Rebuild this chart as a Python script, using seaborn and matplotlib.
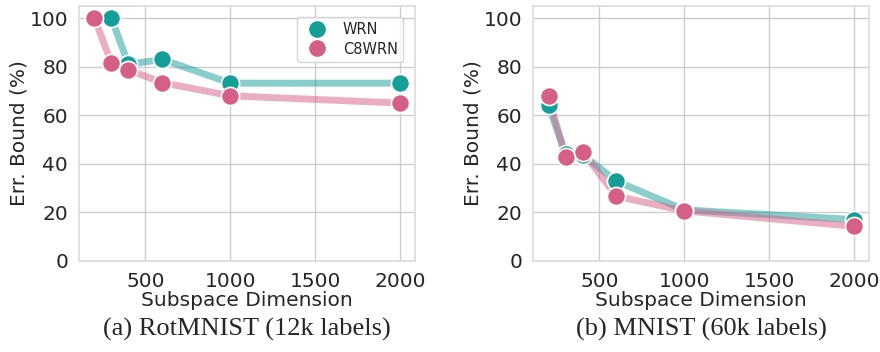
import numpy as np
import pandas as pd
import matplotlib
matplotlib.use("Agg")
import matplotlib.pyplot as plt
import seaborn as sns
from matplotlib.lines import Line2D

# RotMNIST (12k labels)
rot_dims_wrn = [300, 400, 600, 1000, 2000]
rot_wrn = [100.0, 81.0, 83.0, 73.2, 73.2]
rot_dims_c8 = [200, 300, 400, 600, 1000, 2000]
rot_c8 = [100.0, 81.5, 78.7, 73.4, 68.0, 65.0]

# MNIST (60k labels)
mn_dims = [200, 300, 400, 600, 1000, 2000]
mn_wrn = [64.0, 44.0, 43.8, 32.8, 21.0, 17.0]
mn_c8 = [67.8, 42.8, 45.0, 26.6, 20.6, 14.2]

MODELS = ["WRN", "C8WRN"]
COLORS = {"WRN": "#159e98", "C8WRN": "#d65f88"}
CAPTIONS = ["(a) RotMNIST (12k labels)", "(b) MNIST (60k labels)"]


def make_df(dims_a, vals_a, dims_b, vals_b):
    a = pd.DataFrame({"dim": dims_a, "err": vals_a, "model": "WRN"})
    b = pd.DataFrame({"dim": dims_b, "err": vals_b, "model": "C8WRN"})
    return pd.concat([a, b], ignore_index=True)


frames = [
    make_df(rot_dims_wrn, rot_wrn, rot_dims_c8, rot_c8),
    make_df(mn_dims, mn_wrn, mn_dims, mn_c8),
]

sns.set_theme(style="whitegrid")
fig = plt.figure(figsize=(8.8, 3.52), dpi=100)
axes = [
    fig.add_axes([0.090, 0.259, 0.382, 0.724]),
    fig.add_axes([0.606, 0.259, 0.382, 0.724]),
]

for i, (ax, df) in enumerate(zip(axes, frames)):
    for m in MODELS:
        sub = df[df.model == m]
        sns.lineplot(data=sub, x="dim", y="err", color=COLORS[m],
                     linewidth=5, alpha=0.5, ax=ax, legend=False)
    for m in MODELS:
        sub = df[df.model == m]
        sns.scatterplot(data=sub, x="dim", y="err", color=COLORS[m],
                        s=170, edgecolor="white", linewidth=1.2,
                        ax=ax, legend=False, zorder=3)
    ax.set_xlim(110, 2090)
    ax.set_ylim(0, 105)
    ax.set_yticks([0, 20, 40, 60, 80, 100])
    ax.set_xticks([500, 1000, 1500, 2000])
    ax.tick_params(labelsize=14.5, pad=2)
    ax.set_xlabel("Subspace Dimension", fontsize=14.5, labelpad=0)
    ax.set_ylabel("Err. Bound (%)", fontsize=14.5, labelpad=1)
    for s in ax.spines.values():
        s.set_color("#dddddd")
    ax.text(0.5, -0.27, CAPTIONS[i], transform=ax.transAxes,
            ha="center", va="center", fontsize=19,
            family="Liberation Serif")

handles = [Line2D([], [], marker="o", linestyle="", markersize=13,
                  markerfacecolor=COLORS[m], markeredgecolor="white",
                  label=m) for m in MODELS]
axes[0].legend(handles=handles, loc="upper right", fontsize=10.5,
               frameon=True, handletextpad=0.8, borderpad=0.35,
               labelspacing=0.3, bbox_to_anchor=(0.985, 0.985))

fig.savefig("out.png", dpi=100)
